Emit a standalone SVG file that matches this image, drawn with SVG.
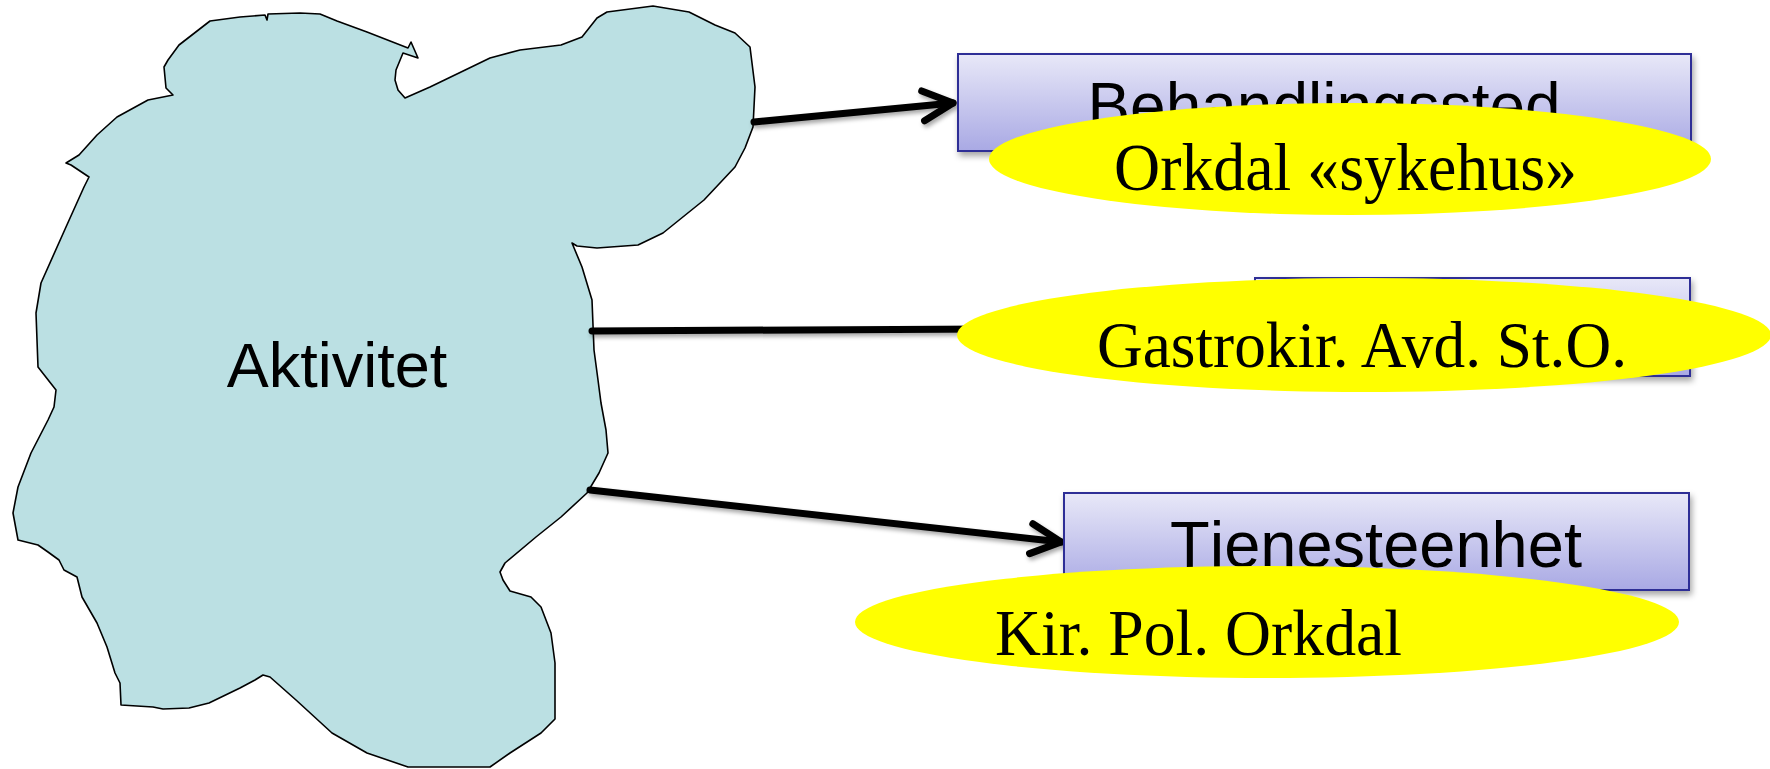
<svg xmlns="http://www.w3.org/2000/svg" width="1770" height="769" viewBox="0 0 1770 769">
<defs>
<style>
.box{fill:url(#boxg);stroke:#2E2E96;stroke-width:2;filter:url(#sh)}
.ell{fill:#FFFF00;stroke:none}
.sans{font-family:"Liberation Sans",Arial,sans-serif;fill:#000}
.serif{font-family:"Liberation Serif","Times New Roman",serif;fill:#000}
.conn{stroke:#000;stroke-width:7;fill:none;stroke-linecap:round;filter:url(#lsh)}
</style>
<linearGradient id="boxg" x1="0" y1="0" x2="0" y2="1">
<stop offset="0" stop-color="#E8E8F8"/>
<stop offset="1" stop-color="#A9A9E4"/>
</linearGradient>
<filter id="sh" x="-5%" y="-20%" width="115%" height="150%">
<feDropShadow dx="2" dy="4" stdDeviation="3" flood-color="#000" flood-opacity="0.35"/>
</filter>
<filter id="lsh" filterUnits="userSpaceOnUse" x="0" y="0" width="1770" height="769">
<feDropShadow dx="2" dy="3" stdDeviation="2" flood-color="#000" flood-opacity="0.35"/>
</filter>
<marker id="arr" markerUnits="userSpaceOnUse" markerWidth="50" markerHeight="50" viewBox="-40 -25 50 50" refX="0" refY="0" orient="auto">
<path d="M-30,-15 L0,0 L-30,15" fill="none" stroke="#000" stroke-width="7" stroke-linecap="round" stroke-linejoin="round"/>
</marker>
</defs>

<g id="aktivitet">
<path d="M210,21 L240,17 L265,15 L267,20 L268,14 L300,13 L320,14 L337,21 L367,32 L408,48 L411,42 L418,58 L403,53 L396,70 L395,80 L398,90 L405,98 L430,87 L459,73 L490,58 L520,50 L561,45 L582,37 L597,18 L607,12 L653,6 L689,12 L715,25 L735,33 L750,47 L755,87 L753,127 L745,148 L735,167 L704,200 L663,233 L638,245 L597,248 L577,246 L572,243 L582,267 L592,300 L594,350 L598,380 L601,403 L606,430 L608,453 L599,473 L587,493 L561,517 L536,537 L505,563 L500,572 L503,580 L510,591 L531,597 L541,607 L551,633 L555,663 L555,719 L541,733 L510,753 L490,767 L408,767 L367,753 L332,733 L296,700 L270,677 L263,675 L255,680 L240,688 L209,703 L189,708 L163,709 L153,707 L121,705 L120,683 L115,673 L107,647 L97,623 L82,597 L77,577 L64,570 L59,560 L48,552 L38,545 L18,540 L13,513 L18,487 L31,453 L48,420 L54,407 L56,390 L38,367 L36,313 L41,283 L66,227 L84,187 L89,177 L71,165 L66,163 L79,155 L97,135 L117,117 L148,100 L173,95 L168,90 L166,88 L164,67 L168,60 L179,45 Z" fill="#BBE0E3" stroke="#000" stroke-width="1.6" stroke-linejoin="round"/>
<text class="sans" x="337" y="387" font-size="63" text-anchor="middle">Aktivitet</text>
</g>

<g id="connectors">
<line class="conn" x1="754" y1="122" x2="953" y2="103" marker-end="url(#arr)"/>
<line class="conn" x1="592" y1="331" x2="990" y2="329"/>
<line class="conn" x1="590" y1="490" x2="1061" y2="542" marker-end="url(#arr)"/>
</g>

<g id="behandlingssted">
<rect class="box" x="958" y="54" width="733" height="97"/>
<text class="sans" x="1324" y="128" font-size="64" text-anchor="middle">Behandlingssted</text>
</g>
<g id="enhet">
<rect class="box" x="1255" y="278" width="435" height="98"/>
</g>
<g id="tjenesteenhet">
<rect class="box" x="1064" y="493" width="625" height="97"/>
<text class="sans" x="1376" y="567" font-size="65" text-anchor="middle">Tjenesteenhet</text>
</g>

<g id="orkdal-sykehus">
<ellipse class="ell" cx="1350" cy="159" rx="361" ry="56"/>
<text class="serif" x="1114" y="190" font-size="67" textLength="463" lengthAdjust="spacingAndGlyphs">Orkdal «sykehus»</text>
</g>
<g id="gastrokir">
<ellipse class="ell" cx="1364" cy="335" rx="407" ry="57"/>
<text class="serif" x="1097" y="367" font-size="66" textLength="530" lengthAdjust="spacingAndGlyphs">Gastrokir. Avd. St.O.</text>
</g>
<g id="kir-pol">
<ellipse class="ell" cx="1267" cy="622" rx="412" ry="56"/>
<text class="serif" x="995" y="655" font-size="66" textLength="407" lengthAdjust="spacingAndGlyphs">Kir. Pol. Orkdal</text>
</g>
</svg>
